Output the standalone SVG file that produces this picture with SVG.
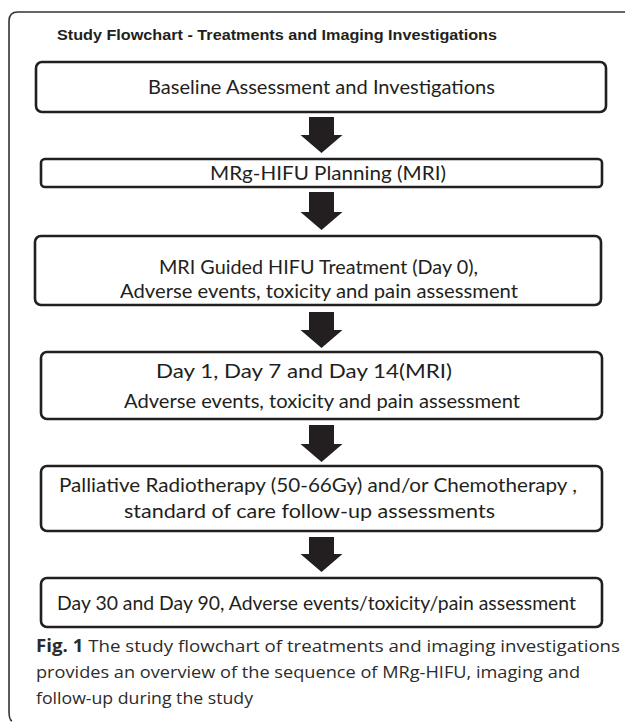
<svg xmlns="http://www.w3.org/2000/svg" width="625" height="723" viewBox="0 0 625 723">
<style>
.frame{fill:none;stroke:#333;stroke-width:1.6}
.box{fill:#fff;stroke:#231f20;stroke-width:2.6}
.arr{fill:#231f20;stroke:none}
.t{font-family:Lato,"Open Sans","Liberation Sans",sans-serif;font-size:19px;fill:#231f20;text-anchor:middle}
.title{font-family:"Liberation Sans",Arial,sans-serif;font-weight:bold;font-size:14px;fill:#231f20}
.cap{font-family:"Open Sans","Liberation Sans",sans-serif;font-size:17px;fill:#2b2b2b}
</style>
<rect width="625" height="723" fill="#fff"/>
<path class="frame" d="M625,12 H18 Q9,12 9,21 V711 Q9,720 12,721"/>
<text class="title" x="57" y="40" textLength="440" lengthAdjust="spacingAndGlyphs">Study Flowchart - Treatments and Imaging Investigations</text>
<g id="connectors">
<path class="arr" d="M309,117 H334 V135 H342.5 L321.5,153 L300.5,135 H309 Z"/>
<path class="arr" d="M309,192 H334 V212 H342.5 L321.5,230 L300.5,212 H309 Z"/>
<path class="arr" d="M309,312 H334 V330 H342.5 L321.5,348 L300.5,330 H309 Z"/>
<path class="arr" d="M309,425 H334 V444 H342.5 L321.5,462 L300.5,444 H309 Z"/>
<path class="arr" d="M309,537 H334 V554 H342.5 L321.5,572 L300.5,554 H309 Z"/>
</g>
<g id="node1">
<rect class="box" x="36" y="62" width="570" height="50" rx="6"/>
<text class="t" x="321.5" y="94" textLength="347" lengthAdjust="spacingAndGlyphs">Baseline Assessment and Investigations</text>
</g>
<g id="node2">
<rect class="box" x="41" y="159" width="561" height="28" rx="4"/>
<text class="t" x="328" y="180" textLength="236" lengthAdjust="spacingAndGlyphs">MRg-HIFU Planning (MRI)</text>
</g>
<g id="node3">
<rect class="box" x="35" y="236" width="566" height="69" rx="6"/>
<text class="t" x="318.5" y="274" textLength="319" lengthAdjust="spacingAndGlyphs">MRI Guided HIFU Treatment (Day 0),</text>
<text class="t" x="319" y="298" textLength="398" lengthAdjust="spacingAndGlyphs">Adverse events, toxicity and pain assessment</text>
</g>
<g id="node4">
<rect class="box" x="41" y="352" width="561" height="67" rx="6"/>
<text class="t" x="304" y="378" textLength="296" lengthAdjust="spacingAndGlyphs">Day  1, Day 7 and Day 14(MRI)</text>
<text class="t" x="322" y="408" textLength="396" lengthAdjust="spacingAndGlyphs">Adverse events, toxicity and pain assessment</text>
</g>
<g id="node5">
<rect class="box" x="41" y="466" width="561" height="65" rx="6"/>
<text class="t" x="318" y="492" textLength="518" lengthAdjust="spacingAndGlyphs">Palliative Radiotherapy (50-66Gy) and/or Chemotherapy ,</text>
<text class="t" x="309.5" y="518" textLength="371" lengthAdjust="spacingAndGlyphs">standard of care follow-up assessments</text>
</g>
<g id="node6">
<rect class="box" x="41" y="578" width="561" height="49" rx="6"/>
<text class="t" x="316.5" y="610" textLength="519" lengthAdjust="spacingAndGlyphs">Day 30 and Day 90, Adverse events/toxicity/pain assessment</text>
</g>
<g id="caption">
<text class="cap" x="36" y="652" textLength="584" lengthAdjust="spacingAndGlyphs"><tspan font-weight="bold">Fig. 1</tspan> The study flowchart of treatments and imaging investigations</text>
<text class="cap" x="36" y="678" textLength="544" lengthAdjust="spacingAndGlyphs">provides an overview of the sequence of MRg-HIFU, imaging and</text>
<text class="cap" x="36" y="704" textLength="217" lengthAdjust="spacingAndGlyphs">follow-up during the study</text>
</g>
</svg>
